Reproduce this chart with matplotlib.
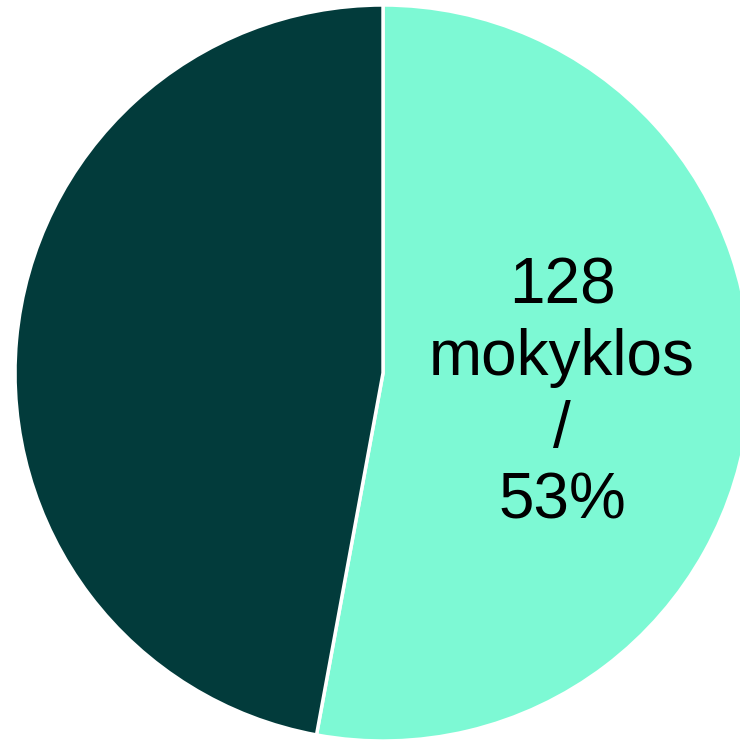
import matplotlib.pyplot as plt

# Data
labels = ["mokyklos", "kitos"]
values = [128, 114]
colors = ["#7DF9D4", "#023B3B"]

fig = plt.figure(figsize=(7.40, 7.42), dpi=100)
ax = fig.add_axes([0, 0, 1, 1])

wedges, _ = ax.pie(values, colors=colors, startangle=90, counterclock=False,
                   radius=1.0, center=(0, 0),
                   wedgeprops=dict(edgecolor="white", linewidth=2.5))

total = sum(values)
pct = round(values[0] / total * 100)
ax.text(0.487, -0.058, f"{values[0]}\n{labels[0]}\n/\n{pct}%",
        ha="center", va="center", fontsize=46, family="Liberation Sans",
        linespacing=1.25, color="black")

ax.set_xlim(-1.0408, 0.970)
ax.set_ylim(-1.0027, 1.0136)
ax.set_aspect("auto")
ax.axis("off")

fig.savefig("out.png", dpi=100)
